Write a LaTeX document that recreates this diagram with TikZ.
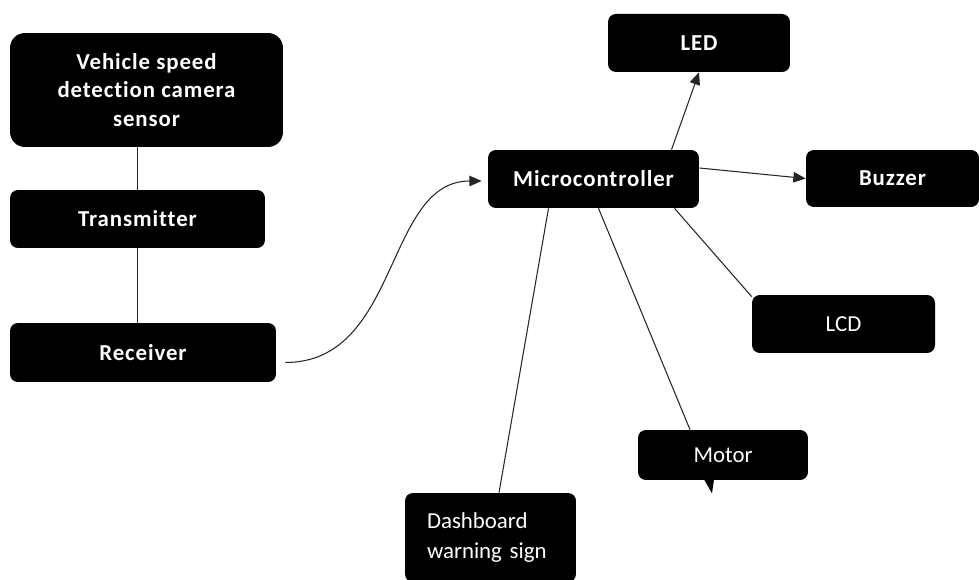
\documentclass[tikz,border=0pt]{standalone}
\usepackage{fontspec}
\setmainfont{Carlito}
\usetikzlibrary{arrows.meta,calc}
\tikzstyle{box} = [fill=black, text=white, rounded corners=4.5pt, inner sep=2pt, font=\fontsize{13}{17.5}\selectfont]
\tikzstyle{boldbox} = [box, font=\fontsize{13}{16}\selectfont\bfseries\addfontfeatures{LetterSpace=4,Ligatures=CommonOff}]
\tikzstyle{link} = [draw=black!85, line width=0.6pt]
\tikzstyle{arr} = [link, -{Triangle[length=7pt,width=6pt]}]

\begin{document}
\begin{tikzpicture}[x=0.02cm, y=-0.02cm]
\useasboundingbox (0,0) rectangle (979,580);
\node[boldbox, minimum width=5.46cm, minimum height=2.28cm, rounded corners=8.5pt, align=center] (veh) at (146.5,90) {Vehicle speed\\detection camera\\sensor};
\node[boldbox, minimum width=5.1cm, minimum height=1.16cm] (trans) at (137.5,219) {Transmitter};
\node[boldbox, minimum width=5.32cm, minimum height=1.18cm] (recv) at (143,352.5) {Receiver};
\node[boldbox, minimum width=4.22cm, minimum height=1.16cm] (mcu) at (593.5,179) {Microcontroller};
\node[boldbox, minimum width=3.64cm, minimum height=1.16cm] (led) at (699,43) {LED};
\node[boldbox, minimum width=3.46cm, minimum height=1.14cm] (buzz) at (892.5,178.5) {Buzzer};
\node[box, minimum width=3.66cm, minimum height=1.16cm] (lcd) at (843.5,324) {LCD};
\node[box, minimum width=3.4cm, minimum height=1.0cm] (motor) at (723,455) {Motor};
\fill ($(motor.south)+(-19,-1)$) -- ++(10,0) -- ++(-2,14) -- cycle;
\node[box, minimum width=3.42cm, minimum height=1.78cm, inner xsep=0.44cm, text width=2.54cm, align=left] (dash) at (490.5,537.5) {Dashboard\\warning sign};

\draw[link] (trans.north) -- (trans.north |- veh.south);
\draw[link] (trans.south) -- (trans.south |- recv.north);

\coordinate (c0) at ($(recv.east)+(9,10)$);
\coordinate (c1) at ($(mcu.west)+(-6,2)$);
\draw[arr] (c0) .. controls +(115,0) and +(-97,0) .. (c1);

\coordinate (m1) at ($(mcu.north)+(78,0)$);
\coordinate (m2) at ($(mcu.east)+(0,-11)$);
\draw[arr] (m1) -- (led.south);
\draw[arr] (m2) -- (buzz.west);
\draw[link] ($(mcu.south)+(81,0)$) -- ($(lcd.north west)+(0,2)$);
\draw[link] ($(mcu.south)+(5,0)$) -- ($(motor.north)+(-33,0)$);
\draw[link] ($(mcu.south)+(-45,0)$) -- ($(dash.north)+(8.5,0)$);
\end{tikzpicture}
\end{document}
